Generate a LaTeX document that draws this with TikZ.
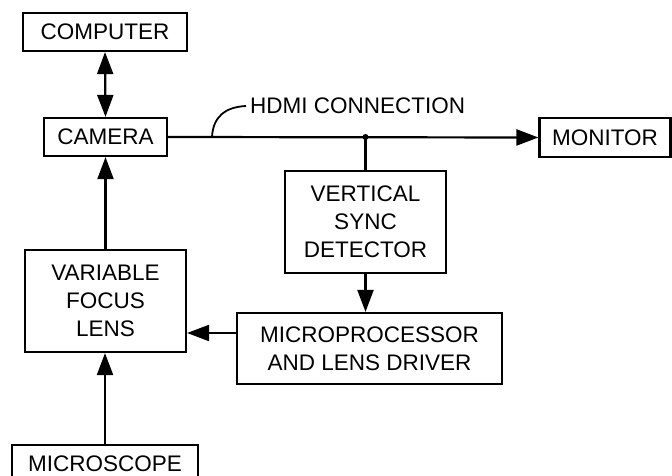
\documentclass[tikz,border=0pt]{standalone}
\usepackage{fontspec}
\setmainfont{Liberation Sans}
\usetikzlibrary{arrows.meta}
\begin{document}
\begin{tikzpicture}[x=1pt,y=-1pt,
  box/.style={draw, line width=2.2pt, inner sep=0pt, align=center, font=\fontsize{22.5}{28}\selectfont},
  conn/.style={line width=2.2pt},
  tip/.style={-{Triangle[length=22pt,width=16pt]}}]
\useasboundingbox (0,0) rectangle (672,476);
\node[box, minimum width=164pt, minimum height=38pt] (comp) at (105,32) {COMPUTER};
\node[box, minimum width=123pt, minimum height=38pt] (cam) at (105.5,137) {CAMERA};
\node[box, minimum width=131pt, minimum height=39pt] (mon) at (605,137.5) {MONITOR};
\node[box, minimum width=161pt, minimum height=102pt] (vsd) at (365.5,222) {VERTICAL\\SYNC\\DETECTOR};
\node[box, minimum width=265pt, minimum height=71pt] (mld) at (369.5,348.5) {MICROPROCESSOR\\AND LENS DRIVER};
\node[box, draw=none, minimum width=184pt, minimum height=31pt, anchor=north] (mic) at (105,445) {};
\node[box, draw=none] (mictext) at (105,464) {MICROSCOPE};
\node[box, minimum width=161pt, minimum height=102pt] (vfl) at (105.5,301) {VARIABLE\\FOCUS\\LENS};
\node[inner sep=0pt, anchor=west, font=\fontsize{22.5}{28}\selectfont] (hdmi) at (250,106) {HDMI CONNECTION};
\draw[line width=2.2pt] ([yshift=2pt]mic.south west) -- (mic.north west) -- (mic.north east) -- ([yshift=2pt]mic.south east);
\coordinate (j) at (vsd.north |- cam.east);
\coordinate (lead) at (212,137);
\draw[conn, {Triangle[length=22pt,width=16pt]}-{Triangle[length=22pt,width=16pt]}] (comp.south) -- (cam.north);
\draw[conn, tip] (cam.east) -- (mon.west);
\fill (j) circle (3pt);
\draw[conn] (j) -- (vsd.north);
\draw[conn, tip] (vsd.south) -- (vsd.south |- mld.north);
\draw[conn, tip] (mld.west |- vfl.east) ++(0,32) coordinate (m1) -- (vfl.east |- m1);
\draw[conn, tip] (vfl.north) -- (cam.south);
\draw[conn, tip] (mic.north) -- (vfl.south -| mic.north);
\draw[line width=1.8pt] (lead) .. controls (213,117) and (225,107) .. ([xshift=-4pt]hdmi.west);
\end{tikzpicture}
\end{document}
